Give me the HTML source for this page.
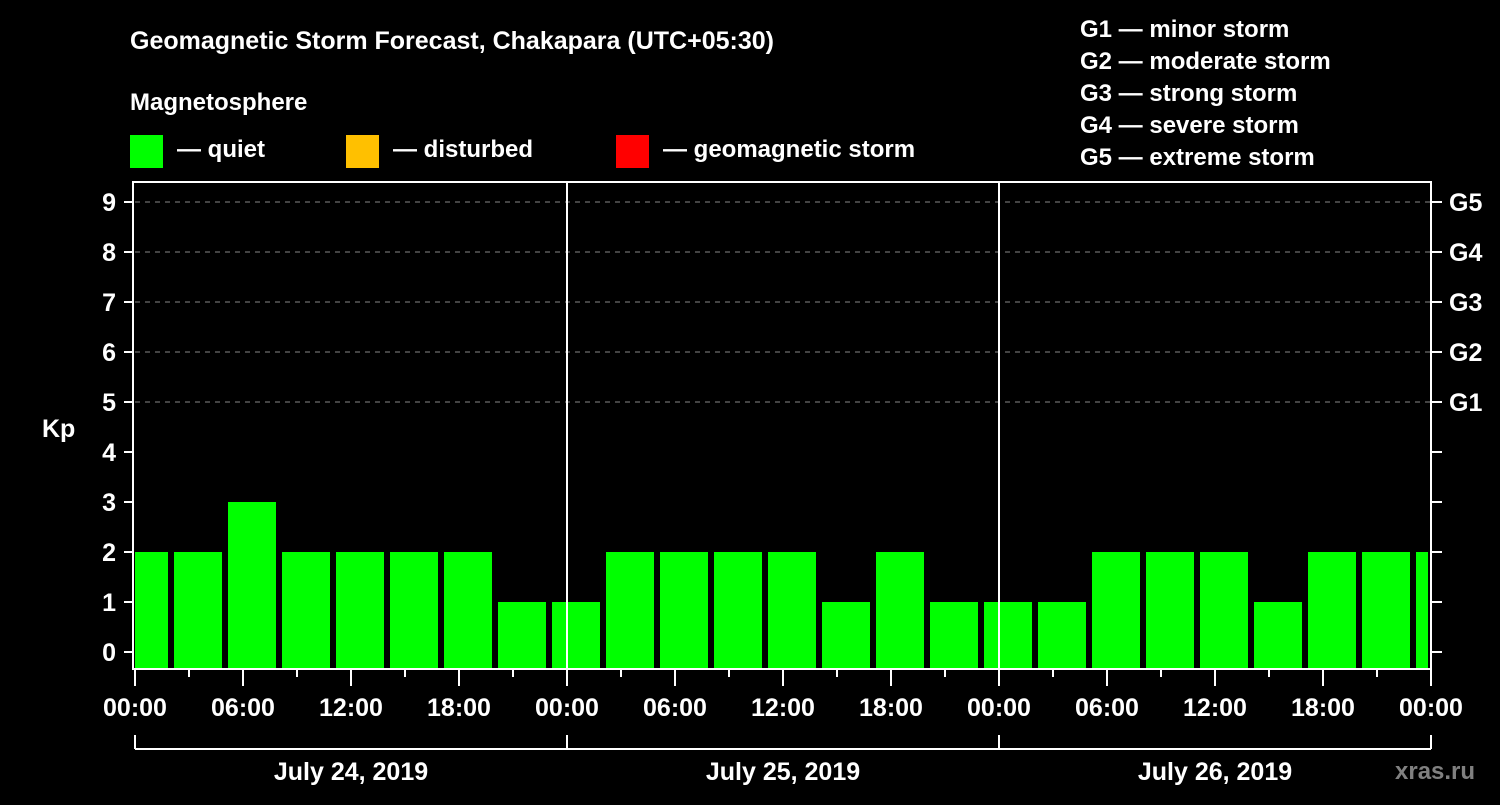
<!DOCTYPE html>
<html><head><meta charset="utf-8"><style>
body{margin:0;background:#000;width:1500px;height:800px;overflow:hidden}
svg text{font-family:"Liberation Sans",sans-serif;font-weight:bold;fill:#fff}
</style></head><body>
<svg id="c" width="1500" height="800" xmlns="http://www.w3.org/2000/svg">
<text x="130" y="49" font-size="25">Geomagnetic Storm Forecast, Chakapara (UTC+05:30)</text>
<text x="130" y="110" font-size="24">Magnetosphere</text>
<g><rect x="130" y="135" width="33" height="33" fill="#00ff00"/><text x="177" y="157" font-size="24">— quiet</text></g>
<g><rect x="346" y="135" width="33" height="33" fill="#ffc000"/><text x="393" y="157" font-size="24">— disturbed</text></g>
<g><rect x="616" y="135" width="33" height="33" fill="#ff0000"/><text x="663" y="157" font-size="24">— geomagnetic storm</text></g>
<g font-size="24">
<text x="1080" y="37">G1 — minor storm</text>
<text x="1080" y="69">G2 — moderate storm</text>
<text x="1080" y="101">G3 — strong storm</text>
<text x="1080" y="133">G4 — severe storm</text>
<text x="1080" y="165">G5 — extreme storm</text>
</g>
<text x="42" y="437" font-size="25">Kp</text>
<g id="grid"></g><g id="bars"></g><g id="axes"></g>
<text x="1395" y="779" font-size="24" style="fill:#808080">xras.ru</text>
</svg>
<script>
const kpValues=[2,2,3,2,2,2,2,1,1,2,2,2,2,1,2,1,1,1,2,2,2,1,2,2,2];
const yTicks=[0,1,2,3,4,5,6,7,8,9];
const gLabels=["G1","G2","G3","G4","G5"];
const dayLabels=["July 24, 2019","July 25, 2019","July 26, 2019"];
const hourLabels=["00:00","06:00","12:00","18:00"];
const NS="http://www.w3.org/2000/svg";
const L=135,R=1430,T=182,B=668,X0=135,PXH=18;
const y=v=>652-v*50;
const x=h=>X0+h*PXH;
function mk(t,a,p){const e=document.createElementNS(NS,t);for(const k in a)e.setAttribute(k,a[k]);p.appendChild(e);return e;}
const grid=document.getElementById('grid'),bars=document.getElementById('bars'),axes=document.getElementById('axes');
for(const v of yTicks){
 if(v>=5){const g=mk('line',{x1:L,x2:R,y1:y(v),y2:y(v),stroke:'#888','stroke-dasharray':'5,5'},grid);
 
 }
 mk('line',{x1:124,x2:132,y1:y(v),y2:y(v),stroke:'#fff','stroke-width':2},axes);
 mk('line',{x1:1432,x2:1442,y1:y(v),y2:y(v),stroke:'#fff','stroke-width':2},axes);
 const t=mk('text',{x:116,y:y(v)+9,'font-size':25,'text-anchor':'end'},axes);t.textContent=v;
 
 
}
gLabels.forEach((g,i)=>{const t=mk('text',{x:1449,y:y(5+i)+9,'font-size':25},axes);t.textContent=g;
 
 });
kpValues.forEach((v,i)=>{
 const c=x(0.5+3*i);let x1=Math.max(c-24,L),x2=Math.min(c+24,R-2);
 if(x2<=x1)return;
 const r=mk('rect',{x:x1,y:y(v),width:x2-x1,height:B-y(v),fill:'#00ff00'},bars);
 
 
});
mk('rect',{x:133,y:182,width:1298,height:487,fill:'none',stroke:'#fff','stroke-width':2},axes);
for(let d=1;d<3;d++)mk('line',{x1:x(24*d),x2:x(24*d),y1:T,y2:B,stroke:'#fff','stroke-width':2},axes);
for(let h=0;h<=72;h+=3){
 const major=h%6===0;
 mk('line',{x1:x(h),x2:x(h),y1:669,y2:major?686:677,stroke:'#fff','stroke-width':2},axes);
 if(major){const t=mk('text',{x:x(h),y:716,'font-size':25,'text-anchor':'middle'},axes);t.textContent=hourLabels[(h/6)%4];
 
 }
}
mk('line',{x1:x(0),x2:x(72),y1:749,y2:749,stroke:'#fff','stroke-width':2},axes);
for(let d=0;d<=3;d++)mk('line',{x1:x(24*d),x2:x(24*d),y1:735,y2:749,stroke:'#fff','stroke-width':2},axes);
dayLabels.forEach((s,i)=>{const t=mk('text',{x:x(24*i+12),y:780,'font-size':25,'text-anchor':'middle'},axes);t.textContent=s;
 
 });
</script>
</body></html>
